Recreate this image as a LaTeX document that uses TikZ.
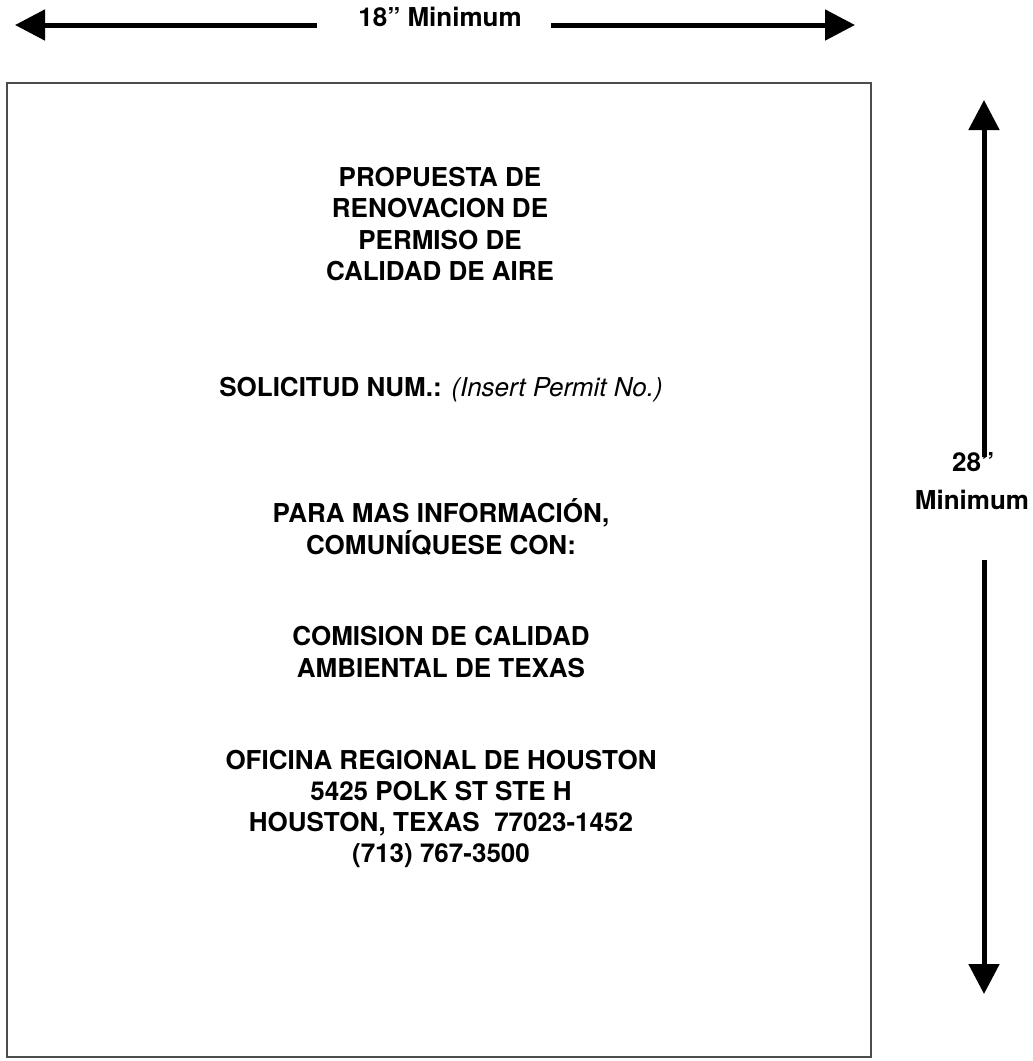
\documentclass[tikz,border=0pt]{standalone}
\usepackage{fontspec}
\setmainfont{TeX Gyre Heros}
\usetikzlibrary{arrows.meta}
\tikzset{
  signtext/.style={font=\fontsize{26}{31.3}\selectfont\bfseries, align=center, inner sep=0pt},
  dimarrow/.style={line width=5pt, -{Triangle[length=30pt, width=30pt]}},
}
\begin{document}
\begin{tikzpicture}[x=1pt, y=-1pt]
\useasboundingbox (0,0) rectangle (1033,1061);
% sign board
\node [draw=black!70, line width=1.4pt, minimum width=864pt, minimum height=974pt, inner sep=0pt] (board) at (439,570) {};
% text on the board
\node [signtext] (title) at (440,224) {PROPUESTA DE\\RENOVACION DE\\PERMISO DE\\CALIDAD DE AIRE};
\node [signtext] (appno) at (441,390) {SOLICITUD NUM.: {\mdseries\itshape (Insert Permit No.)}};
\node [signtext] (info) at (441,527) {PARA MAS INFORMACIÓN,\\COMUNÍQUESE CON:};
\node [signtext] (agency) at (441,652) {COMISION DE CALIDAD\\AMBIENTAL DE TEXAS};
\node [signtext] (office) at (441,809) {OFICINA REGIONAL DE HOUSTON\\5425 POLK ST STE H\\HOUSTON, TEXAS\ \ 77023-1452\\(713) 767-3500};
% width dimension
\node [signtext] (wlabel) at (440,17) {18” Minimum};
\coordinate (wgapL) at (317,25);
\coordinate (wgapR) at (551,25);
\coordinate (wtipL) at (15,25);
\coordinate (wtipR) at (855,25);
\draw [dimarrow] (wgapL) -- (wtipL);
\draw [dimarrow] (wgapR) -- (wtipR);
% height dimension
\node [signtext, anchor=west] (hnum) at (952,462) {28”};
\node [signtext] (hlabel) at (972,500) {Minimum};
\coordinate (hgapT) at (984,457);
\coordinate (hgapB) at (984,560);
\coordinate (htipT) at (984,100);
\coordinate (htipB) at (984,994);
\draw [dimarrow] (hgapT) -- (htipT);
\draw [dimarrow] (hgapB) -- (htipB);
\end{tikzpicture}
\end{document}
